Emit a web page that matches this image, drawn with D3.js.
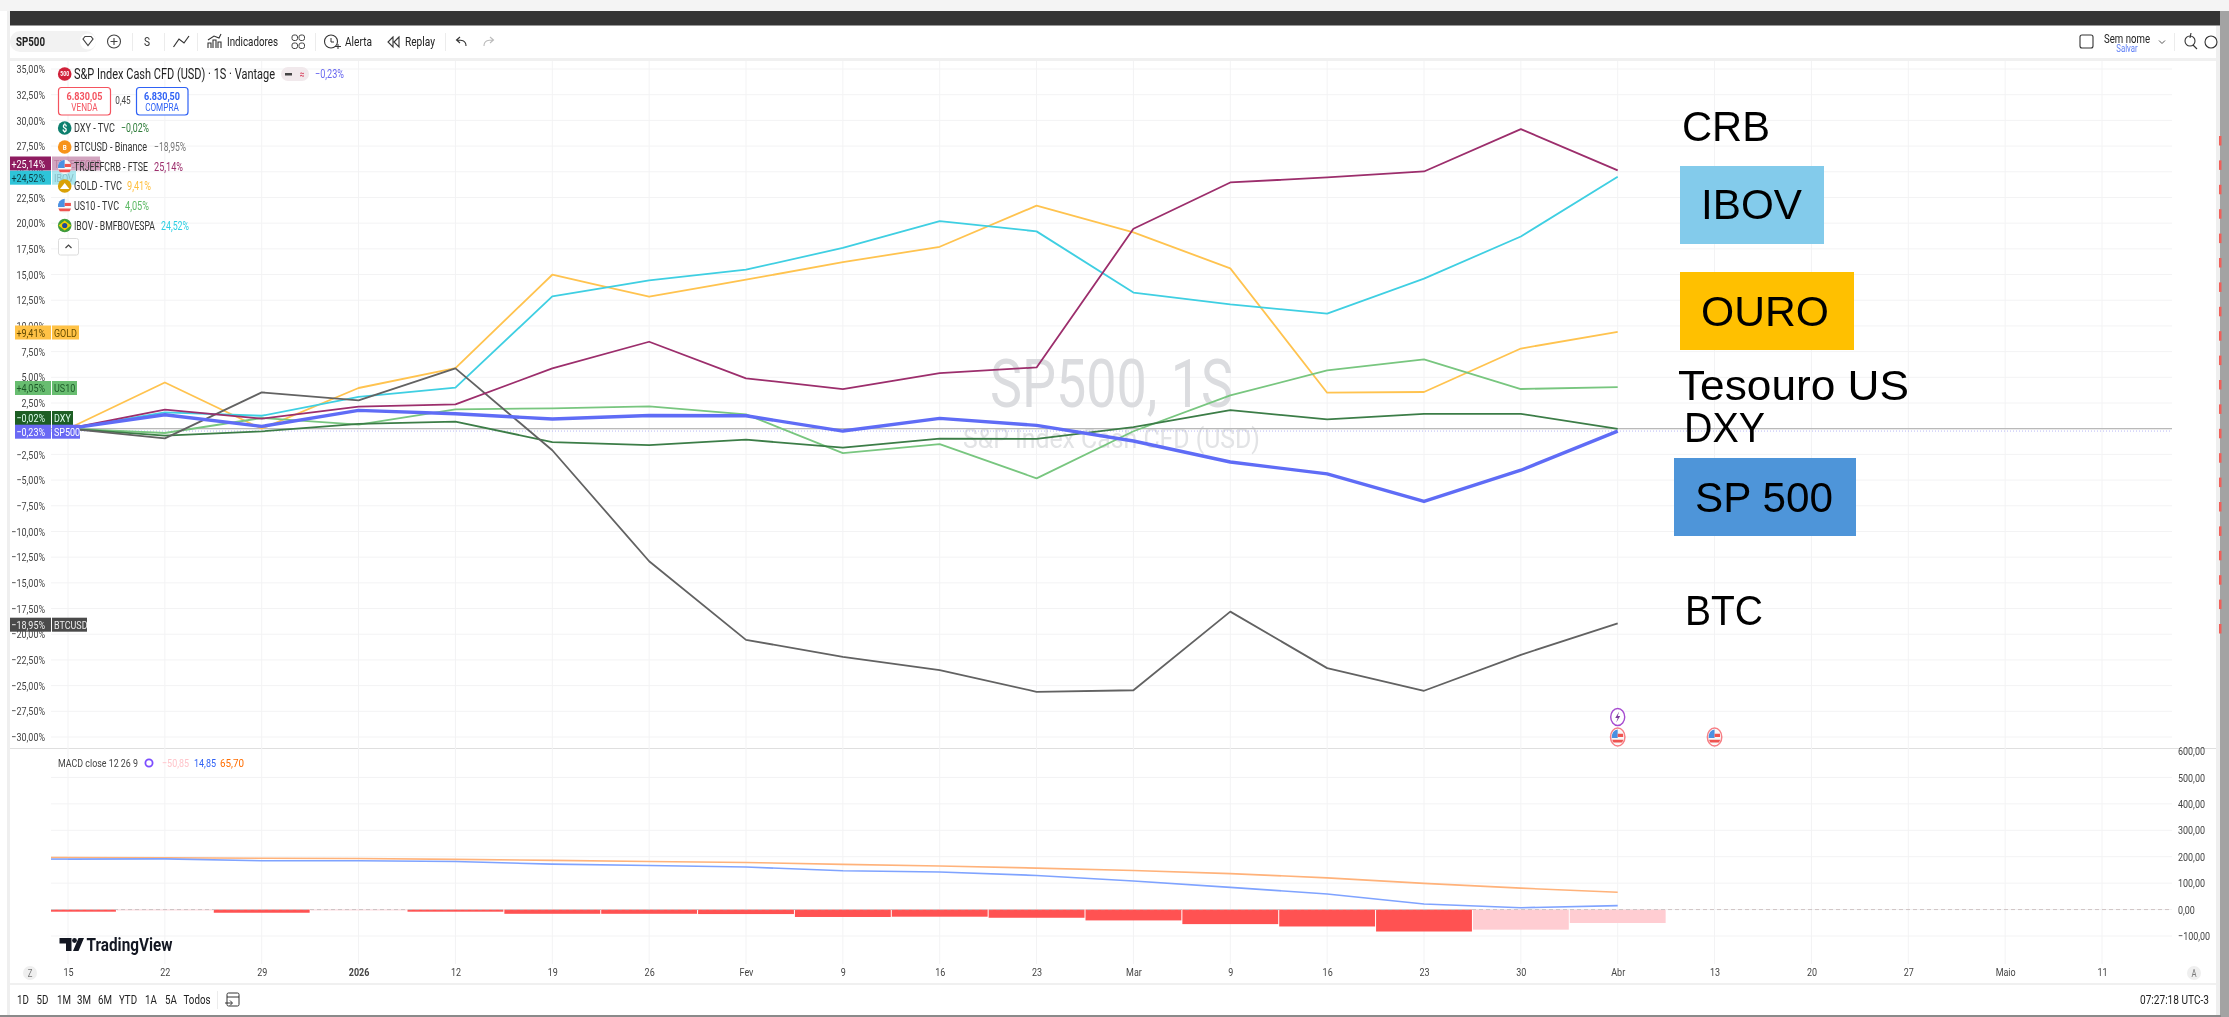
<!DOCTYPE html>
<html>
<head>
<meta charset="utf-8">
<script src="https://d3js.org/d3.v7.min.js"></script>
<style>
body { margin: 0; background: #fff; }
svg { display: block; }
text { font-family: Roboto, sans-serif; }
.tv { filter: blur(0.35px); }
.note { font-family: "Liberation Sans", sans-serif; font-size: 43px; fill: #000; }
</style>
</head>
<body>
<svg id="chart" width="2229" height="1017"></svg>
<script>
// weekly closes in % from the 15 dez start
var sp500 = [0, 1.36, 0.22, 1.78, 1.46, 0.94, 1.29, 1.26, -0.23, 1.0, 0.32, -1.2, -3.24, -4.4, -7.08, -4.04, -0.23];
var dxy = [0, -0.68, -0.26, 0.46, 0.68, -1.3, -1.59, -1.07, -1.85, -0.97, -1.0, 0.16, 1.8, 0.9, 1.45, 1.45, -0.02];
var btc = [0, -0.94, 3.53, 2.75, 5.87, -2.1, -12.9, -20.55, -22.2, -23.5, -25.6, -25.45, -17.8, -23.3, -25.5, -22, -18.95];
var crb = [0, 1.85, 0.97, 2.14, 2.36, 5.87, 8.46, 4.9, 3.86, 5.4, 5.96, 19.45, 23.96, 24.45, 25.03, 29.15, 25.14];
var gold = [0, 4.5, 0, 3.96, 5.9, 14.98, 12.84, 14.5, 16.2, 17.7, 21.7, 19.1, 15.6, 3.5, 3.57, 7.8, 9.41];
var us10 = [0, -0.42, 1.04, 0.39, 1.88, 1.98, 2.17, 1.4, -2.37, -1.5, -4.83, -0.25, 3.24, 5.67, 6.74, 3.86, 4.05];
var ibov = [0, 1.59, 1.26, 3.1, 4.0, 12.87, 14.43, 15.47, 17.6, 20.2, 19.2, 13.25, 12.1, 11.2, 14.6, 18.7, 24.52];

var macdLine = [191, 192, 185, 185, 182, 172, 167, 161, 147, 142, 129, 108, 84, 59, 21, 7, 14.85];
var signalLine = [197, 196, 194, 193, 190, 186, 182, 178, 171, 165, 157, 148, 136, 120, 99, 81, 65.7];
var histogram = [-8, -3, -12, -3, -8, -16, -16, -17, -28, -27, -31, -41, -55, -64, -83, -76, -50.85];

var timeLabels = ["15", "22", "29", "2026", "12", "19", "26", "Fev", "9", "16", "23", "Mar", "9", "16", "23", "30", "Abr", "13", "20", "27", "Maio", "11"];
var pctTicks = [35, 32.5, 30, 27.5, 25, 22.5, 20, 17.5, 15, 12.5, 10, 7.5, 5, 2.5, 0, -2.5, -5, -7.5, -10, -12.5, -15, -17.5, -20, -22.5, -25, -27.5, -30];
var macdTicks = [600, 500, 400, 300, 200, 100, 0, -100];
var rangeLabels = ["1D", "5D", "1M", "3M", "6M", "YTD", "1A", "5A", "Todos"];

var svg = d3.select("#chart");
var ptBR = d3.formatLocale({decimal: ",", thousands: ".", grouping: [3], currency: ["", ""], minus: "\u2212"});
var pct = ptBR.format(".2f");
var signedPct = ptBR.format("+.2f");

var x = d3.scaleLinear().domain([0, 21]).range([68, 2102]);
var yPct = d3.scaleLinear().domain([-30, 35]).range([737, 69]);
var yMacd = d3.scaleLinear().domain([-100, 600]).range([936, 751]);

var left = 51, right = 2172;

// page background bits
function box(g, x0, y0, w, h, fill) {
  return g.append("rect").attr("x", x0).attr("y", y0).attr("width", w).attr("height", h).attr("fill", fill);
}
box(svg, 0, 0, 2229, 11, "#f4f4f4");
box(svg, 7, 11, 3, 1004, "#efefef");
box(svg, 10, 11, 2211, 14.5, "#343434");
box(svg, 10, 58, 2206, 3, "#f0f0f0");
box(svg, 2216, 26, 5, 990, "#efefef");
box(svg, 2220, 11, 9, 1006, "#a3a3a3");
box(svg, 0, 1015, 2221, 2, "#8a8a8a");
box(svg, 10, 983, 2206, 2, "#f0f0f0");
box(svg, 10, 748, 2206, 1, "#dfdfdf");
// red marks on the window edge
d3.range(136, 640, 24.4).forEach(function (yy) {
  box(svg, 2219, yy, 2.5, 9.5, "#f0605a");
});

var tv = svg.append("g").attr("class", "tv");

// grid
var grid = tv.append("g").attr("stroke", "#f3f3f4").attr("stroke-width", 1);
grid.selectAll(".gy").data(pctTicks).join("line").attr("class", "gy")
  .attr("x1", left).attr("x2", right).attr("y1", function (d) { return yPct(d); }).attr("y2", function (d) { return yPct(d); });
grid.selectAll(".gm").data(macdTicks.slice(1)).join("line").attr("class", "gm")
  .attr("x1", left).attr("x2", right).attr("y1", function (d) { return yMacd(d); }).attr("y2", function (d) { return yMacd(d); });
grid.selectAll(".gx").data(timeLabels).join("line").attr("class", "gx")
  .attr("x1", function (d, i) { return x(i); }).attr("x2", function (d, i) { return x(i); })
  .attr("y1", 61).attr("y2", 964);

// axes
var axisPct = tv.append("g").attr("transform", "translate(45,0)")
  .call(d3.axisLeft(yPct).tickValues(pctTicks).tickSize(0).tickPadding(0).tickFormat(function (d) { return pct(d) + "%"; }));
axisPct.select(".domain").remove();
axisPct.selectAll("text").attr("font-size", 11.5).attr("fill", "#444");

var axisMacd = tv.append("g").attr("transform", "translate(2178,0)")
  .call(d3.axisRight(yMacd).tickValues(macdTicks).tickSize(0).tickPadding(0).tickFormat(function (d) { return pct(d); }));
axisMacd.select(".domain").remove();
axisMacd.selectAll("text").attr("font-size", 11.5).attr("fill", "#444");

var axisTime = tv.append("g").attr("transform", "translate(0,964)")
  .call(d3.axisBottom(x).tickValues(d3.range(timeLabels.length)).tickSize(0).tickPadding(4).tickFormat(function (d) { return timeLabels[d]; }));
axisTime.select(".domain").remove();
axisTime.selectAll("text").attr("font-size", 11.5).attr("fill", "#444")
  .attr("font-weight", function (d) { return timeLabels[d] == "2026" ? "bold" : "normal"; });

// watermark
tv.append("text").attr("x", 990).attr("y", 407).attr("font-size", 66).attr("fill", "#dbdcdf").attr("data-w", 243).text("SP500, 1S");
tv.append("text").attr("x", 963).attr("y", 448).attr("font-size", 28).attr("fill", "#e2e3e5").attr("data-w", 297).text("S&P Index Cash CFD (USD)");

// zero line and last price line
tv.append("line").attr("x1", left).attr("x2", right).attr("y1", yPct(0)).attr("y2", yPct(0)).attr("stroke", "#b9b9b9").attr("stroke-width", 1.2);
tv.append("line").attr("x1", left).attr("x2", right).attr("y1", yPct(-0.23)).attr("y2", yPct(-0.23))
  .attr("stroke", "#a5a5f4").attr("stroke-width", 0.8).attr("stroke-dasharray", "1 2");

// price lines
var line = d3.line().x(function (d, i) { return x(i); }).y(function (d) { return yPct(d); });
var drawOrder = [
  {v: gold, c: "#ffc34f", w: 1.8},
  {v: ibov, c: "#3fcfe2", w: 1.8},
  {v: us10, c: "#78c67f", w: 1.8},
  {v: dxy, c: "#3c7d47", w: 1.8},
  {v: btc, c: "#626262", w: 1.8},
  {v: crb, c: "#9c2e6c", w: 1.8},
  {v: sp500, c: "#5f6cf6", w: 3.4}
];
tv.selectAll(".price").data(drawOrder).join("path").attr("class", "price")
  .attr("fill", "none").attr("stroke-linejoin", "round")
  .attr("stroke", function (d) { return d.c; }).attr("stroke-width", function (d) { return d.w; })
  .attr("d", function (d) { return line(d.v); });

// macd pane
tv.selectAll(".hist").data(histogram).join("rect").attr("class", "hist")
  .attr("x", function (d, i) { return Math.max(left, x(i - 0.5) + 0.5); })
  .attr("width", function (d, i) { return x(i + 0.5) - Math.max(left, x(i - 0.5) + 0.5) - 0.5; })
  .attr("y", yMacd(0))
  .attr("height", function (d) { return yMacd(d) - yMacd(0); })
  .attr("fill", function (d, i) { return (i == 1 || i == 3 || i >= 15) ? "#ffcdd2" : "#ff5252"; });
tv.append("line").attr("x1", left).attr("x2", right).attr("y1", yMacd(0)).attr("y2", yMacd(0))
  .attr("stroke", "#cfc4c4").attr("stroke-dasharray", "4 3");
var macdPath = d3.line().x(function (d, i) { return x(i); }).y(function (d) { return yMacd(d); });
tv.append("path").attr("fill", "none").attr("stroke", "#ffb27a").attr("stroke-width", 1.6).attr("d", macdPath(signalLine));
tv.append("path").attr("fill", "none").attr("stroke", "#7fa3ff").attr("stroke-width", 1.6).attr("d", macdPath(macdLine));
// lines start at the pane edge in the reference
tv.append("line").attr("x1", left).attr("x2", x(0)).attr("y1", yMacd(signalLine[0])).attr("y2", yMacd(signalLine[0])).attr("stroke", "#ffb27a").attr("stroke-width", 1.6);
tv.append("line").attr("x1", left).attr("x2", x(0)).attr("y1", yMacd(macdLine[0])).attr("y2", yMacd(macdLine[0])).attr("stroke", "#7fa3ff").attr("stroke-width", 1.6);

// small text helper
function label(g, x0, y0, s, fill, size, anchor, weight) {
  return g.append("text").attr("x", x0).attr("y", y0).attr("dy", "0.35em")
    .attr("font-size", size || 12).attr("fill", fill || "#333")
    .attr("text-anchor", anchor || "start").attr("font-weight", weight || "normal").text(s);
}

// price tags on the left
var tags = [
  {v: crb, name: "TRJEFFCRB", c: "#8e1b60", t: "#fff", nameC: "#a8577f", tagW: 48, x0: 10, cy: 163.5, faded: true},
  {v: ibov, name: "IBOV", c: "#2ec4d8", t: "#0d3d44", nameC: "#6a9aa2", tagW: 24, x0: 10, cy: 177.7, faded: true},
  {v: gold, name: "GOLD", c: "#ffc246", t: "#5f4700", nameC: "#6b4f00", tagW: 27, x0: 15, cy: 332.5},
  {v: us10, name: "US10", c: "#68bd70", t: "#1d5a28", nameC: "#1d5a28", tagW: 25, x0: 15, cy: 388},
  {v: dxy, name: "DXY", c: "#1d5e24", t: "#dfe", nameC: "#dfe", tagW: 21, x0: 15, cy: 418},
  {v: sp500, name: "SP500", c: "#6a69f4", t: "#fff", nameC: "#fff", tagW: 28, x0: 15, cy: 431.7},
  {v: btc, name: "BTCUSD", c: "#4a4a4a", t: "#eee", nameC: "#eee", tagW: 35, x0: 10, cy: 624.7}
];
tags.forEach(function (d) {
  var last = d.v[d.v.length - 1];
  box(tv, d.x0, d.cy - 7, 51 - d.x0, 14, d.c);
  box(tv, 52, d.cy - 7, d.tagW, 14, d.c).attr("opacity", d.faded ? 0.4 : 1);
  label(tv, 45, d.cy, (last > 0 ? signedPct(last) : pct(last)) + "%", d.t, 11.5, "end");
  label(tv, 54, d.cy, d.name, d.nameC, 11.5).attr("opacity", d.faded ? 0.55 : 1);
});

// legend
function flag(g, cx, cy, rx, ry) {
  var n = g.append("g").attr("transform", "translate(" + cx + "," + cy + ") scale(" + rx / 7 + "," + ry / 7 + ")");
  n.append("circle").attr("r", 7).attr("fill", "#f7f7f7");
  n.append("path").attr("d", "M-6.9,1A7,7 0 0 1 0,-7L0,1Z").attr("fill", "#4a90e2");
  n.append("path").attr("d", "M0,-3H6.4V0H0Z").attr("fill", "#ef5350");
  n.append("path").attr("d", "M-6.5,2.5H6.5A7,7 0 0 1 5,5H-5Z").attr("fill", "#ef5350");
}
function coin(g, cx, cy, fill, s, size) {
  g.append("circle").attr("cx", cx).attr("cy", cy).attr("r", 6.8).attr("fill", fill);
  label(g, cx, cy, s, "#fff", size || 9, "middle", "bold");
}

coin(tv, 64.7, 74, "#d0213a", "500", 6.5);
label(tv, 74, 74, "S&P Index Cash CFD (USD) \u00b7 1S \u00b7 Vantage", "#222", 14).attr("data-w", 201);
tv.append("rect").attr("x", 281).attr("y", 67).attr("width", 28).attr("height", 14).attr("rx", 7).attr("fill", "#f1e9ec");
tv.append("rect").attr("x", 285).attr("y", 73).attr("width", 7).attr("height", 2.5).attr("fill", "#444");
label(tv, 302, 74, "\u2248", "#d8435e", 11, "middle");
label(tv, 315, 74, pct(-0.23) + "%", "#6a6af0", 12).attr("data-w", 29);

tv.append("rect").attr("x", 58.5).attr("y", 87.5).attr("width", 52).attr("height", 27.5).attr("rx", 3).attr("fill", "#fff").attr("stroke", "#f4535f").attr("stroke-width", 1.2);
label(tv, 84.5, 96, "6.830,05", "#f4535f", 11, "middle", "bold").attr("data-w", 36);
label(tv, 84.5, 107, "VENDA", "#f4535f", 10.5, "middle");
label(tv, 123, 100, "0,45", "#444", 10.5, "middle");
tv.append("rect").attr("x", 136.5).attr("y", 87.5).attr("width", 51.5).attr("height", 27.5).attr("rx", 3).attr("fill", "#fff").attr("stroke", "#2f62f5").attr("stroke-width", 1.2);
label(tv, 162, 96, "6.830,50", "#2f62f5", 11, "middle", "bold").attr("data-w", 36);
label(tv, 162, 107, "COMPRA", "#2f62f5", 10.5, "middle");

coin(tv, 64.7, 128, "#0d7f6e", "$", 11);
label(tv, 74, 128, "DXY - TVC", "#333", 12).attr("data-w", 41);
label(tv, 121, 128, pct(dxy[16]) + "%", "#2f7d3a", 12).attr("data-w", 28);
coin(tv, 64.7, 147, "#f7931a", "B", 8);
label(tv, 74, 147, "BTCUSD - Binance", "#333", 12).attr("data-w", 73);
label(tv, 154, 147, pct(btc[16]) + "%", "#777", 12).attr("data-w", 32);
flag(tv, 64.7, 167, 6.8, 7.2);
label(tv, 74, 167, "TRJEFFCRB - FTSE", "#333", 12).attr("data-w", 74);
label(tv, 154, 167, pct(crb[16]) + "%", "#9c2e6c", 12).attr("data-w", 29);
coin(tv, 64.7, 186, "#d9a106", "", 8);
tv.append("path").attr("d", "M60,189L64.7,183L69.4,189Z").attr("fill", "#fff");
label(tv, 74, 186, "GOLD - TVC", "#333", 12).attr("data-w", 48);
label(tv, 127, 186, pct(gold[16]) + "%", "#ffbf3f", 12).attr("data-w", 24);
flag(tv, 64.7, 206, 6.8, 7.2);
label(tv, 74, 206, "US10 - TVC", "#333", 12).attr("data-w", 45);
label(tv, 125, 206, pct(us10[16]) + "%", "#5cb964", 12).attr("data-w", 24);
tv.append("circle").attr("cx", 64.7).attr("cy", 225.5).attr("r", 6.8).attr("fill", "#3f9b3c");
tv.append("path").attr("d", "M58.5,225.5L64.7,220.5L71,225.5L64.7,230.5Z").attr("fill", "#f0d000");
tv.append("circle").attr("cx", 64.7).attr("cy", 225.5).attr("r", 2.6).attr("fill", "#204a9a");
label(tv, 74, 225.5, "IBOV - BMFBOVESPA", "#333", 12).attr("data-w", 81);
label(tv, 161, 225.5, pct(ibov[16]) + "%", "#2ecfe3", 12).attr("data-w", 28);

tv.append("rect").attr("x", 58.5).attr("y", 238.5).attr("width", 20).attr("height", 16.5).attr("rx", 2).attr("fill", "#fff").attr("stroke", "#dcdcdc");
tv.append("path").attr("d", "M65.5,248L68.5,245L71.5,248").attr("fill", "none").attr("stroke", "#444").attr("stroke-width", 1.2);

// macd legend
label(tv, 58, 763, "MACD close 12 26 9", "#444", 11).attr("data-w", 80);
tv.append("circle").attr("cx", 149).attr("cy", 763).attr("r", 3.6).attr("fill", "none").attr("stroke", "#7c4dff").attr("stroke-width", 1.8);
label(tv, 162, 763, pct(histogram[16]), "#ffc4ca", 11.5).attr("data-w", 27);
label(tv, 194, 763, pct(macdLine[16]), "#2f62f5", 11.5).attr("data-w", 22);
label(tv, 220, 763, pct(signalLine[16]), "#ff6d00", 11.5).attr("data-w", 24);

// event marks
[x(16), x(17)].forEach(function (ex) {
  flag(tv, ex, 737, 6, 7.6);
  tv.append("ellipse").attr("cx", ex).attr("cy", 737).attr("rx", 7.2).attr("ry", 9).attr("fill", "none").attr("stroke", "#f77f85").attr("stroke-width", 1.5);
});
tv.append("ellipse").attr("cx", x(16)).attr("cy", 717).attr("rx", 7).attr("ry", 8.5).attr("fill", "#fff").attr("stroke", "#a64bd0").attr("stroke-width", 1.4);
tv.append("path").attr("d", "M" + (x(16) + 1.5) + ",711.5L" + (x(16) - 2.5) + ",718H" + x(16) + "L" + (x(16) - 1.5) + ",722.5L" + (x(16) + 2.5) + ",716H" + x(16) + "Z").attr("fill", "#7a3b9a");

// TradingView logo
tv.append("path").attr("d", "M59.5,938H71.5V951H66V943.5H59.5ZM78.5,938H84L78.5,951H73Z").attr("fill", "#131722");
tv.append("circle").attr("cx", 74.5).attr("cy", 940.5).attr("r", 2.4).attr("fill", "#131722");
tv.append("text").attr("x", 86.5).attr("y", 951).attr("font-size", 19).attr("font-weight", "bold").attr("fill", "#131722").attr("data-w", 86).text("TradingView");

// top toolbar
box(tv, 10, 31, 86, 21, "#f2f2f2").attr("rx", 10);
label(tv, 16, 41.5, "SP500", "#222", 13, "start", "bold").attr("data-w", 29);
tv.append("circle").attr("cx", 88).attr("cy", 41.5).attr("r", 8).attr("fill", "#fff");
tv.append("path").attr("d", "M83,39L85,36.5H91L93,39L88,45.5Z").attr("fill", "none").attr("stroke", "#444").attr("stroke-width", 1.2);
tv.append("circle").attr("cx", 114).attr("cy", 41.5).attr("r", 6.5).attr("fill", "none").attr("stroke", "#444").attr("stroke-width", 1.1);
tv.append("path").attr("d", "M110.5,41.5H117.5M114,38V45").attr("stroke", "#444").attr("stroke-width", 1.1);
label(tv, 147, 41.5, "S", "#333", 13, "middle");
tv.append("path").attr("d", "M173.5,47L179,39L184,43L189,36").attr("fill", "none").attr("stroke", "#333").attr("stroke-width", 1.2);
tv.append("path").attr("d", "M208,48V43H211V48M213,48V40H216V48M218,48V42H221V48M208,40L214,36L219,38L221,34").attr("fill", "none").attr("stroke", "#333").attr("stroke-width", 1.1);
label(tv, 227, 41.5, "Indicadores", "#222", 13).attr("data-w", 51);
[[292, 35], [299, 35], [292, 43], [299, 43]].forEach(function (p) {
  tv.append("rect").attr("x", p[0]).attr("y", p[1]).attr("width", 5.5).attr("height", 5.5).attr("rx", 2).attr("fill", "none").attr("stroke", "#444");
});
tv.append("circle").attr("cx", 331).attr("cy", 41.5).attr("r", 6.5).attr("fill", "none").attr("stroke", "#333").attr("stroke-width", 1.1);
tv.append("path").attr("d", "M331,38V42H334M335,46.5H341M338,44V49").attr("fill", "none").attr("stroke", "#333").attr("stroke-width", 1);
label(tv, 345, 41.5, "Alerta", "#222", 13).attr("data-w", 27);
tv.append("path").attr("d", "M393,37L388,42L393,47ZM399,37L394,42L399,47Z").attr("fill", "none").attr("stroke", "#333").attr("stroke-width", 1.1);
label(tv, 405, 41.5, "Replay", "#222", 13).attr("data-w", 30);
tv.append("path").attr("d", "M466,46C466,40 461,40 457,40M460,37L456.5,40L460,43").attr("fill", "none").attr("stroke", "#333").attr("stroke-width", 1.1);
tv.append("path").attr("d", "M484,46C484,40 489,40 493,40M490,37L493.5,40L490,43").attr("fill", "none").attr("stroke", "#bbb").attr("stroke-width", 1.1);
[132, 164, 197, 315, 445, 2174].forEach(function (sx) {
  box(tv, sx, 33, 1, 18, "#ececec");
});
tv.append("rect").attr("x", 2080).attr("y", 35).attr("width", 13).attr("height", 13).attr("rx", 2).attr("fill", "none").attr("stroke", "#333").attr("stroke-width", 1.1);
label(tv, 2127, 38.5, "Sem nome", "#222", 12.5, "middle").attr("data-w", 46);
label(tv, 2127, 48.5, "Salvar", "#5b7cf5", 10, "middle");
tv.append("path").attr("d", "M2159,40.5L2162,43.5L2165,40.5").attr("fill", "none").attr("stroke", "#555");
tv.append("circle").attr("cx", 2190).attr("cy", 41).attr("r", 5).attr("fill", "none").attr("stroke", "#333").attr("stroke-width", 1.1);
tv.append("path").attr("d", "M2193,45L2197,49M2191,33L2190,38").attr("fill", "none").attr("stroke", "#333").attr("stroke-width", 1.1);
tv.append("circle").attr("cx", 2211).attr("cy", 42).attr("r", 6).attr("fill", "none").attr("stroke", "#333").attr("stroke-width", 1.1);

// bottom toolbar
var rangeX = [23, 42.5, 64, 84, 105, 128, 151, 171, 197];
rangeLabels.forEach(function (s, i) { label(tv, rangeX[i], 1000, s, "#222", 12.5, "middle"); });
box(tv, 217, 991, 1, 18, "#ececec");
tv.append("rect").attr("x", 227).attr("y", 993).attr("width", 12).attr("height", 13).attr("rx", 1.5).attr("fill", "none").attr("stroke", "#333").attr("stroke-width", 1);
tv.append("path").attr("d", "M227,997H239M225,1003H232M230,1000.5L232.5,1003L230,1005.5").attr("fill", "#fff").attr("stroke", "#333").attr("stroke-width", 1);
label(tv, 2209, 999, "07:27:18 UTC-3", "#222", 13, "end").attr("data-w", 69);
tv.append("circle").attr("cx", 30).attr("cy", 973).attr("r", 7).attr("fill", "#efefef");
label(tv, 30, 973, "Z", "#777", 10, "middle");
tv.append("circle").attr("cx", 2194).attr("cy", 973).attr("r", 7).attr("fill", "#efefef");
label(tv, 2194, 973, "A", "#777", 10, "middle");

// the screenshot font is much narrower than anything installed, so squeeze it
tv.selectAll("text").each(function () {
  var w = this.getComputedTextLength();
  var target = +this.getAttribute("data-w") || w * 0.78;
  if (w > 0) {
    this.setAttribute("textLength", target);
    this.setAttribute("lengthAdjust", "spacingAndGlyphs");
  }
});

// hand-placed notes on top of the screenshot
var notes = [
  {s: "CRB", x: 1682, y: 141, w: 88},
  {s: "IBOV", x: 1701, y: 219, w: 101, bx: 1680, by: 166, bw: 144, bh: 78, fill: "#83cbeb"},
  {s: "OURO", x: 1701, y: 326, w: 128, bx: 1680, by: 272, bw: 174, bh: 78, fill: "#ffc000"},
  {s: "Tesouro US", x: 1678, y: 400, w: 231},
  {s: "DXY", x: 1684, y: 442, w: 81},
  {s: "SP 500", x: 1695, y: 512, w: 138, bx: 1674, by: 458, bw: 182, bh: 78, fill: "#4e95d9"},
  {s: "BTC", x: 1685, y: 625, w: 78}
];
notes.forEach(function (n) {
  if (n.fill) box(svg, n.bx, n.by, n.bw, n.bh, n.fill);
  svg.append("text").attr("class", "note").attr("x", n.x).attr("y", n.y)
    .attr("textLength", n.w).attr("lengthAdjust", "spacingAndGlyphs").text(n.s);
});
</script>
</body>
</html>
